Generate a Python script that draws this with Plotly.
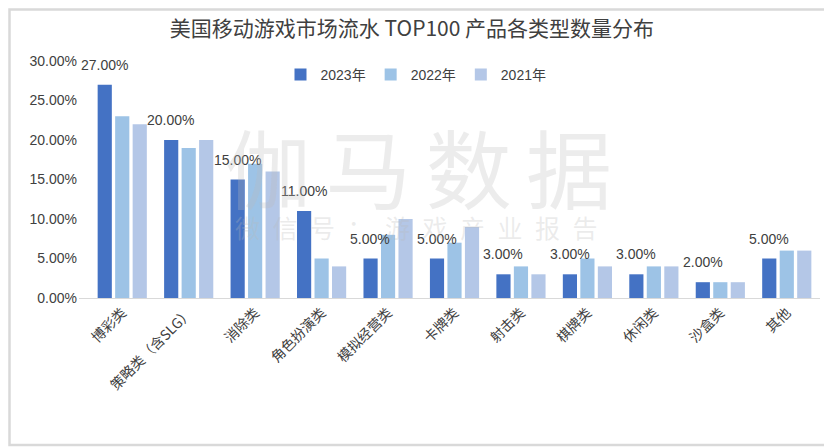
import plotly.graph_objects as go

categories = ["博彩类", "策略类（含SLG）", "消除类", "角色扮演类", "模拟经营类", "卡牌类",
              "射击类", "棋牌类", "休闲类", "沙盒类", "其他"]
series_names = ["2023年", "2022年", "2021年"]
v2023 = [27, 20, 15, 11, 5, 5, 3, 3, 3, 2, 5]
v2022 = [23, 19, 17, 5, 8, 7, 4, 5, 4, 2, 6]
v2021 = [22, 20, 16, 4, 10, 9, 3, 4, 4, 2, 6]
colors = ["#4472C4", "#9DC3E6", "#B4C7E7"]
title_text = "美国移动游戏市场流水 TOP100 产品各类型数量分布"
watermark1 = "\u2006".join("伽马数据")
watermark2 = "\u2002".join("微信号：游戏产业报告")

FONT = "Liberation Sans, Arial, Noto Sans CJK SC, sans-serif"
CJK = "Noto Sans CJK SC, sans-serif"
OFF = 8  # page body margin
W, H = 832 - OFF, 447 - OFF
L, R, T, B = 71, 12, 61 - OFF, 149
BARGAP, GROUPGAP = 0.21, 0.19

fig = go.Figure()
for name, vals, col in zip(series_names, [v2023, v2022, v2021], colors):
    fig.add_trace(go.Bar(
        x=categories, y=[v / 100 for v in vals], name=name,
        marker_color=col, marker_line_width=0,
    ))

pw = W - L - R
ph = H - T - B
cat_w = pw / len(categories)
slot = cat_w * (1 - BARGAP) / len(series_names)
for c, v in zip(categories, v2023):
    fig.add_annotation(x=c, y=v / 100, text=f"{v:.2f}%", showarrow=False,
                       xshift=-slot, yshift=20, yanchor="middle",
                       font=dict(size=14, color="#404040", family=FONT))

fig.update_layout(
    width=W, height=H,
    margin=dict(l=L, r=R, t=T, b=B, autoexpand=False),
    paper_bgcolor="white", plot_bgcolor="white",
    barmode="group", bargap=BARGAP, bargroupgap=GROUPGAP,
    font=dict(family=FONT, color="#404040", size=14),
    title=dict(text=title_text, x=(412 - OFF) / W, xref="container", xanchor="center",
               y=1 - (29 - OFF) / H, yref="container", yanchor="middle",
               font=dict(size=21, color="#404040", family=CJK)),
    legend=dict(orientation="h", x=(416 - OFF - L) / pw, xanchor="center",
                y=(H - B - (75 - OFF)) / ph, yanchor="middle",
                font=dict(size=14, color="#404040"), bgcolor="rgba(0,0,0,0)",
                itemwidth=30, traceorder="normal"),
    xaxis=dict(showline=True, linecolor="#D9D9D9", linewidth=1, tickangle=-45,
               ticks="", automargin=False,
               tickfont=dict(size=14, color="#404040", family=CJK)),
    yaxis=dict(range=[0, 0.30], dtick=0.05, tickformat=".2%", showgrid=False,
               zeroline=False, showline=False, ticks="", automargin=False,
               ticklabelstandoff=1,
               tickfont=dict(size=14, color="#404040")),
    showlegend=True,
)

fig.add_annotation(text=watermark1, xref="paper", yref="paper",
                   x=(418 - OFF - L) / pw, y=(H - B - (165 - OFF)) / ph, showarrow=False,
                   font=dict(size=86, color="rgba(185,185,185,0.28)", family=CJK))
fig.add_annotation(text=watermark2, xref="paper", yref="paper",
                   x=(416 - OFF - L) / pw, y=(H - B - (247 - OFF)) / ph, showarrow=False,
                   font=dict(size=25, color="rgba(185,185,185,0.28)", family=CJK))

fig.add_shape(type="rect", xref="paper", yref="paper",
              x0=-(L - 1.5) / pw, x1=1 + (R - 1.5) / pw,
              y0=-(B - 2) / ph, y1=1 + (T - 1.5) / ph,
              line=dict(color="#D9D9D9", width=2.5), fillcolor="rgba(0,0,0,0)")

fig.write_html("out.html")
